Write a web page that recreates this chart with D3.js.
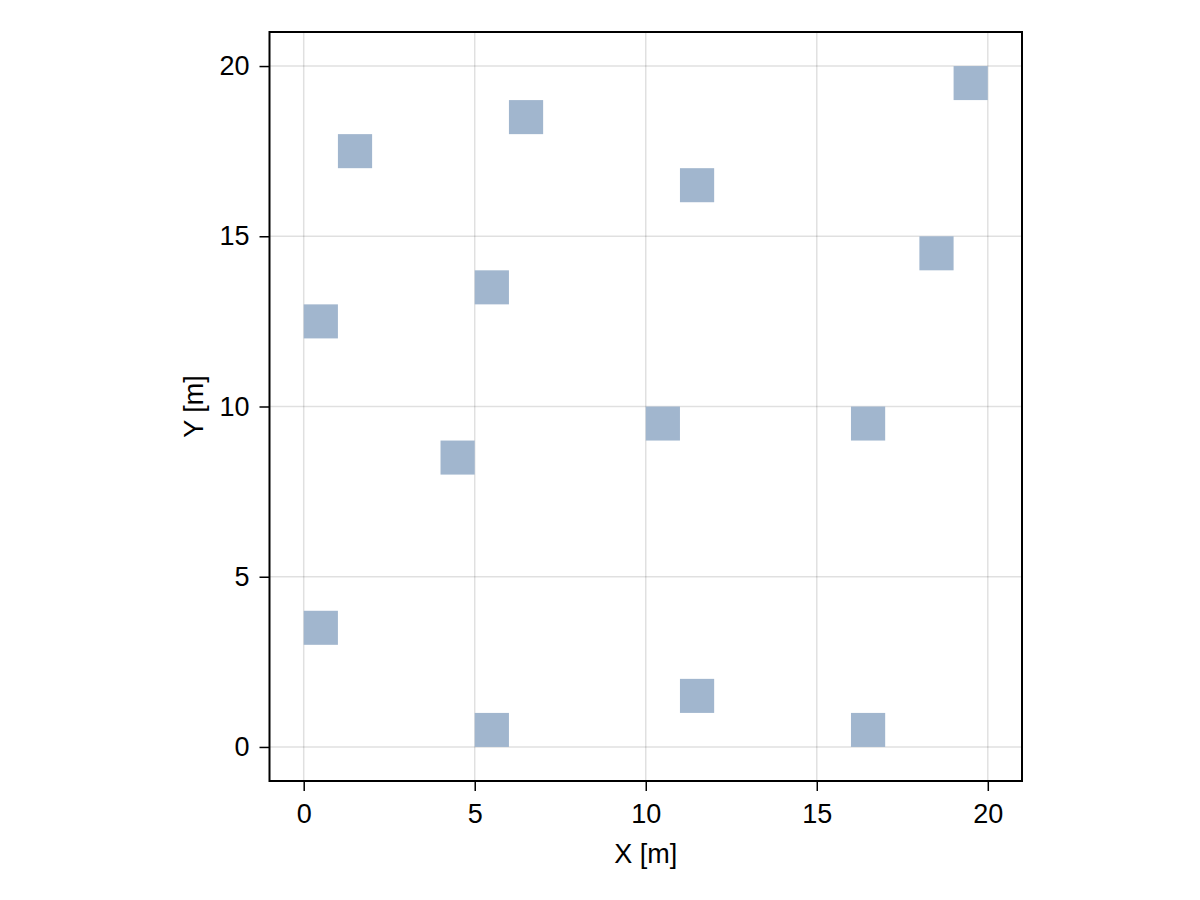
<!DOCTYPE html>
<html><head><meta charset="utf-8">
<script src="https://cdn.jsdelivr.net/npm/d3@7"></script>
<style>body{margin:0;background:#fff}svg{display:block}text{font-family:"Liberation Sans",Arial,sans-serif;fill:#000}</style>
</head><body>
<svg id="c" width="1200" height="900"></svg>
<script>
const cellX = [1, 6, 19, 11, 18, 5, 0, 4, 10, 16, 0, 5, 11, 16];
const cellY = [17, 18, 19, 16, 14, 13, 12, 8, 9, 9, 3, 0, 1, 0];
const xTicks = [0, 5, 10, 15, 20];
const yTicks = [0, 5, 10, 15, 20];
const xLabel = "X [m]";
const yLabel = "Y [m]";

const svg = d3.select("#c");
const L = 269.5, R = 1022, T = 32, B = 781;
const FS = 27;
const x = d3.scaleLinear().domain([-1, 21]).range([L, R]);
const y = d3.scaleLinear().domain([-1, 21]).range([B, T]);

// grid
svg.append("g").selectAll("line").data(xTicks).join("line")
  .attr("x1", d => x(d)).attr("x2", d => x(d)).attr("y1", T).attr("y2", B)
  .attr("stroke", "#000").attr("stroke-opacity", 0.12).attr("stroke-width", 1.5);
svg.append("g").selectAll("line").data(yTicks).join("line")
  .attr("y1", d => y(d)).attr("y2", d => y(d)).attr("x1", L).attr("x2", R)
  .attr("stroke", "#000").attr("stroke-opacity", 0.12).attr("stroke-width", 1.5);

// cells
const cells = cellX.map((cx, i) => ({x: cx, y: cellY[i]}));
svg.append("g").selectAll("rect").data(cells).join("rect")
  .attr("x", d => x(d.x)).attr("y", d => y(d.y + 1))
  .attr("width", d => x(d.x + 1) - x(d.x)).attr("height", d => y(d.y) - y(d.y + 1))
  .attr("fill", "#a1b6ce");

// axes
const xa = svg.append("g").attr("transform", `translate(0,${B})`)
  .call(d3.axisBottom(x).tickValues(xTicks).tickSize(10).tickPadding(13));
const ya = svg.append("g").attr("transform", `translate(${L},0)`)
  .call(d3.axisLeft(y).tickValues(yTicks).tickSize(10).tickPadding(10));
[xa, ya].forEach(a => {
  a.select(".domain").remove();
  a.selectAll("line").attr("stroke", "#000").attr("stroke-width", 1.5);
  a.selectAll("text").attr("font-size", FS).attr("font-family", '"Liberation Sans",Arial,sans-serif').attr("fill", "#000");
});
svg.append("rect").attr("x", L).attr("y", T).attr("width", R - L).attr("height", B - T)
  .attr("fill", "none").attr("stroke", "#000").attr("stroke-width", 2);

svg.append("text").attr("x", (L + R) / 2).attr("y", 863).attr("text-anchor", "middle")
  .attr("font-size", FS).text(xLabel);
svg.append("text").attr("transform", `translate(203,${(T + B) / 2}) rotate(-90)`)
  .attr("text-anchor", "middle").attr("font-size", FS).text(yLabel);
</script>
</body></html>
